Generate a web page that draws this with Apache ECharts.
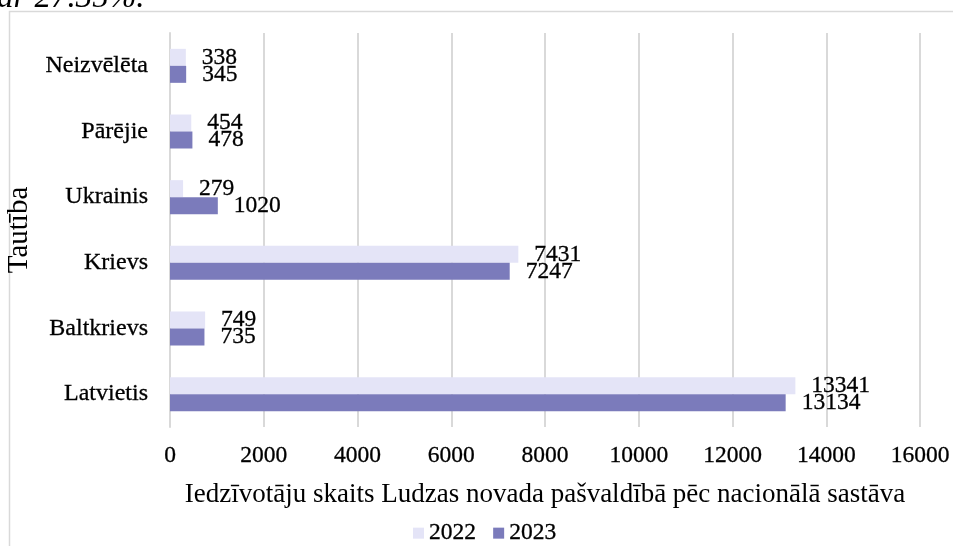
<!DOCTYPE html>
<html>
<head>
<meta charset="utf-8">
<script src="https://cdn.jsdelivr.net/npm/echarts@6/dist/echarts.min.js"></script>
<style>
  html, body { margin: 0; padding: 0; background: #fff; }
  #chart { width: 953px; height: 546px; }
</style>
</head>
<body>
<div id="chart"></div>
<script>
const categories = ['Latvietis', 'Baltkrievs', 'Krievs', 'Ukrainis', 'Pārējie', 'Neizvēlēta'];
const values2022 = [13341, 749, 7431, 279, 454, 338];
const values2023 = [13134, 735, 7247, 1020, 478, 345];
const seriesNames = ['2022', '2023'];
const xTicks = { min: 0, max: 16000, interval: 2000 };
const xAxisTitle = 'Iedzīvotāju skaits Ludzas novada pašvaldībā pēc nacionālā sastāva';
const yAxisTitle = 'Tautība';
const topText = 'ar 27.35%.';

const FONT = '"Liberation Serif", "Times New Roman", serif';
const gridColor = '#D9D9D9';

const chart = echarts.init(document.getElementById('chart'), null, { renderer: 'canvas' });

const labelStyle = {
  show: true,
  position: 'right',
  distance: 16,
  color: '#000',
  fontFamily: FONT,
  fontSize: 23.5,
  textBorderColor: '#000',
  textBorderWidth: 0.3
};

chart.setOption({
  animation: false,
  backgroundColor: '#fff',
  graphic: [
    {
      type: 'rect',
      left: 7, top: 9,
      shape: { x: 0, y: 0, width: 980, height: 600 },
      style: { fill: 'none', stroke: gridColor, lineWidth: 1.5 },
      silent: true
    },
    {
      type: 'text',
      x: -3, y: 15,
      style: {
        text: topText,
        font: 'italic 33px ' + FONT,
        fill: '#000',
        verticalAlign: 'bottom',
        align: 'left'
      },
      silent: true
    }
  ],
  legend: {
    data: seriesNames,
    left: 408,
    top: 516,
    itemWidth: 11,
    itemHeight: 11,
    itemGap: 17,
    icon: 'rect',
    textStyle: { fontFamily: FONT, fontSize: 23.5, color: '#000', textBorderColor: '#000', textBorderWidth: 0.3 }
  },
  grid: { left: 170, right: 33, top: 33, bottom: 119, containLabel: false, outerBoundsMode: 'none' },
  xAxis: {
    type: 'value',
    min: xTicks.min,
    max: xTicks.max,
    interval: xTicks.interval,
    axisLine: { show: false },
    axisTick: { show: false },
    splitLine: { show: true, lineStyle: { color: gridColor, width: 2 } },
    axisLabel: { color: '#000', fontFamily: FONT, fontSize: 23.5, margin: 17, formatter: v => String(v), textBorderColor: '#000', textBorderWidth: 0.3 },
    name: xAxisTitle,
    nameLocation: 'middle',
    nameGap: 54,
    nameTextStyle: { color: '#000', fontFamily: FONT, fontSize: 27 }
  },
  yAxis: {
    type: 'category',
    data: categories,
    axisLine: { show: true, lineStyle: { color: gridColor, width: 2 } },
    axisTick: { show: false },
    axisLabel: { color: '#000', fontFamily: FONT, fontSize: 24, margin: 22, textBorderColor: '#000', textBorderWidth: 0.3 },
    name: yAxisTitle,
    nameLocation: 'middle',
    nameGap: 115,
    nameRotate: 90,
    nameTextStyle: { color: '#000', fontFamily: FONT, fontSize: 29 }
  },
  series: [
    {
      name: seriesNames[0],
      type: 'bar',
      data: values2022,
      barWidth: 17,
      barGap: '0%',
      itemStyle: { color: '#E4E4F7' },
      label: labelStyle
    },
    {
      name: seriesNames[1],
      type: 'bar',
      data: values2023,
      barWidth: 17,
      barGap: '0%',
      itemStyle: { color: '#7B7BBB' },
      label: labelStyle
    }
  ]
});
</script>
</body>
</html>
